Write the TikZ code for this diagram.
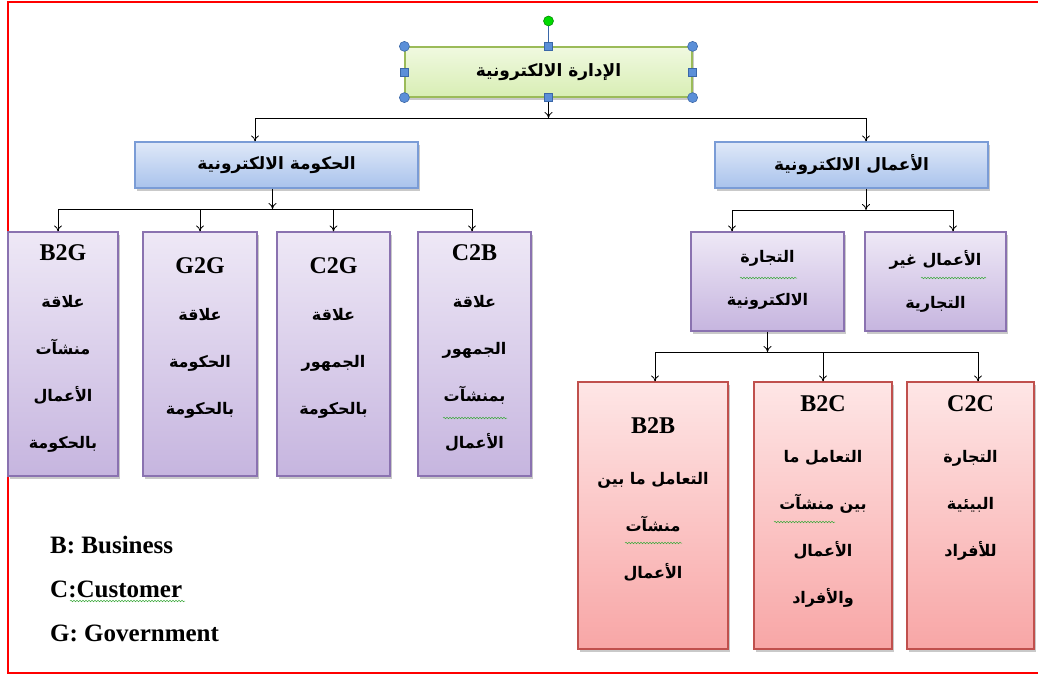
\documentclass[tikz,border=0pt]{standalone}
\usepackage{fontspec}
\setmainfont{Liberation Serif}
\newfontfamily\arabicfont[Script=Arabic]{DejaVu Sans}
\TeXXeTstate=1
\usetikzlibrary{arrows.meta,shadows,decorations.pathmorphing}

\definecolor{frame red}{HTML}{FF0000}
\definecolor{admin top}{HTML}{F0F9E0}
\definecolor{admin bot}{HTML}{D8EEB4}
\definecolor{admin edge}{HTML}{9BBB59}
\definecolor{blue top}{HTML}{DFE8F8}
\definecolor{blue bot}{HTML}{A9C3EC}
\definecolor{blue edge}{HTML}{7A9CD6}
\definecolor{violet top}{HTML}{EEE8F6}
\definecolor{violet bot}{HTML}{C6B5DF}
\definecolor{violet edge}{HTML}{8A72B0}
\definecolor{rose top}{HTML}{FEE6E6}
\definecolor{rose bot}{HTML}{F8A6A6}
\definecolor{rose edge}{HTML}{C0504D}
\definecolor{handle fill}{HTML}{5B8FD8}
\definecolor{handle edge}{HTML}{3A67A8}
\definecolor{spell green}{HTML}{3DAA3D}

\newcommand{\ar}[1]{\beginR #1\endR}
\newcommand{\code}[1]{{\rmfamily\bfseries\fontsize{24}{28}\selectfont #1}}

\begin{document}
\begin{tikzpicture}[x=1pt,y=-1pt]

\tikzset{
  base box/.style={
    draw, line width=1.2pt, inner sep=0pt,
    drop shadow={shadow xshift=2pt, shadow yshift=-3pt, opacity=0.3, fill=black!70},
  },
  admin box/.style={base box, draw=admin edge, top color=admin top, bottom color=admin bot},
  branch box/.style={base box, draw=blue edge, top color=blue top, bottom color=blue bot},
  kind box/.style={base box, draw=violet edge, top color=violet top, bottom color=violet bot},
  trade box/.style={base box, draw=rose edge, top color=rose top, bottom color=rose bot},
  head text/.style={font=\arabicfont\bfseries\fontsize{17}{20}\selectfont},
  box text/.style={inner sep=0pt, align=center, anchor=north,
    font=\arabicfont\bfseries\fontsize{16}{47}\selectfont},
  legend text/.style={inner sep=0pt, anchor=base west, font=\rmfamily\bfseries\fontsize{25}{28}\selectfont},
  link/.style={line width=0.8pt, -{To[length=6pt,width=8pt]}},
  bus/.style={line width=0.8pt},
  handle/.style={fill=handle fill, draw=handle edge, line width=0.6pt},
  spell/.style={draw=spell green, line width=0.5pt, decorate,
    decoration={snake, amplitude=0.8pt, segment length=3pt}},
}

% Frame
\useasboundingbox (0,0) rectangle (1038,677);
\clip (0,0) rectangle (1038,677);
\draw[frame red, line width=2pt] (7.5,2.5) rectangle (1060,673);

% Level 0
\node[admin box, minimum width=287pt, minimum height=50pt] (eadmin) at (548.5,72) {};
\node[head text] (eadmintext) at (eadmin) {\ar{الإدارة الالكترونية}};

% Level 1
\node[branch box, minimum width=283pt, minimum height=46pt] (egov) at (276.5,165) {};
\node[head text] (egovtext) at (egov) {\ar{الحكومة الالكترونية}};
\node[branch box, minimum width=273pt, minimum height=46pt] (ebiz) at (851.5,165) {};
\node[head text] (ebiztext) at (ebiz) {\ar{الأعمال الالكترونية}};

% Level 2 (government side)
\node[kind box, minimum width=110pt, minimum height=244pt] (b2g) at (63,354) {};
\node[kind box, minimum width=114pt, minimum height=244pt] (g2g) at (200,354) {};
\node[kind box, minimum width=113pt, minimum height=244pt] (c2g) at (333.5,354) {};
\node[kind box, minimum width=113pt, minimum height=244pt] (c2b) at (474.5,354) {};

\node[box text] (b2gtext) at ([yshift=-13pt]b2g.north)
  {\code{B2G}\\ \ar{علاقة}\\ \ar{منشآت}\\ \ar{الأعمال}\\ \ar{بالحكومة}};
\node[box text] (g2gtext) at ([yshift=-26pt]g2g.north)
  {\code{G2G}\\ \ar{علاقة}\\ \ar{الحكومة}\\ \ar{بالحكومة}};
\node[box text] (c2gtext) at ([yshift=-26pt]c2g.north)
  {\code{C2G}\\ \ar{علاقة}\\ \ar{الجمهور}\\ \ar{بالحكومة}};
\node[box text] (c2btext) at ([yshift=-13pt]c2b.north)
  {\code{C2B}\\ \ar{علاقة}\\ \ar{الجمهور}\\ \ar{بمنشآت}\\ \ar{الأعمال}};

% Level 2 (business side)
\node[kind box, minimum width=153pt, minimum height=99pt] (etrade) at (767.5,281.5) {};
\node[kind box, minimum width=141pt, minimum height=99pt] (nontrade) at (935.5,281.5) {};
\node[box text, font=\arabicfont\bfseries\fontsize{16}{43}\selectfont] (etradetext)
  at ([yshift=-19pt]etrade.north) {\ar{التجارة}\\ \ar{الالكترونية}};
\node[box text, font=\arabicfont\bfseries\fontsize{16}{43}\selectfont] (nontradetext)
  at ([yshift=-19pt]nontrade.north) {\ar{الأعمال غير}\\ \ar{التجارية}};

% Level 3
\node[trade box, minimum width=150pt, minimum height=267pt] (b2b) at (653,515.5) {};
\node[trade box, minimum width=138pt, minimum height=267pt] (b2c) at (823,515.5) {};
\node[trade box, minimum width=127pt, minimum height=267pt] (c2c) at (970.5,515.5) {};

\node[box text] (b2btext) at ([yshift=-36pt]b2b.north)
  {\code{B2B}\\[4pt] \ar{التعامل ما بين}\\ \ar{منشآت}\\ \ar{الأعمال}};
\node[box text] (b2ctext) at ([yshift=-14pt]b2c.north)
  {\code{B2C}\\[4pt] \ar{التعامل ما}\\ \ar{بين منشآت}\\ \ar{الأعمال}\\ \ar{والأفراد}};
\node[box text] (c2ctext) at ([yshift=-14pt]c2c.north)
  {\code{C2C}\\[4pt] \ar{التجارة}\\ \ar{البيئية}\\ \ar{للأفراد}};

% Legend
\node[legend text] (legb) at (50,553) {B: Business};
\node[legend text] (legc) at (50,597) {C:Customer};
\node[legend text] (legg) at (50,641) {G: Government};

% Edges
\coordinate (topbusL) at (255,118);
\coordinate (topbusR) at (866,118);
\draw[link] (eadmin.south) -- (eadmin.south |- topbusL);
\draw[bus] (topbusL) -- (topbusR);
\draw[link] (topbusL) -- (topbusL |- egov.north);
\draw[link] (topbusR) -- (topbusR |- ebiz.north);

\coordinate (govbusL) at (58,209);
\coordinate (govbusR) at (472,209);
\draw[link] ([xshift=-4pt]egov.south) -- ([xshift=-4pt]egov.south |- govbusL);
\draw[bus] (govbusL) -- (govbusR);
\draw[link] (govbusL) -- (govbusL |- b2g.north);
\draw[link] (g2g.north |- govbusL) -- (g2g.north);
\draw[link] (c2g.north |- govbusL) -- (c2g.north);
\draw[link] (govbusR) -- (govbusR |- c2b.north);

\coordinate (bizbusL) at (732,210);
\coordinate (bizbusR) at (953,210);
\draw[link] (topbusR |- ebiz.south) -- (topbusR |- bizbusL);
\draw[bus] (bizbusL) -- (bizbusR);
\draw[link] (bizbusL) -- (bizbusL |- etrade.north);
\draw[link] (bizbusR) -- (bizbusR |- nontrade.north);

\coordinate (tradebusL) at (655,352);
\coordinate (tradebusR) at (978,352);
\draw[link] (etrade.south) -- (etrade.south |- tradebusL);
\draw[bus] (tradebusL) -- (tradebusR);
\draw[link] (tradebusL) -- (tradebusL |- b2b.north);
\draw[link] (b2c.north |- tradebusL) -- (b2c.north);
\draw[link] (tradebusR) -- (tradebusR |- c2c.north);

% Selection handles
\coordinate (turn) at (548.5,21);
\draw[handle edge, line width=0.8pt] (eadmin.north) -- (turn);
\fill[green!85!black] (turn) circle (5pt);
\draw[green!50!black, line width=0.5pt] (turn) circle (5pt);
\foreach \a in {north west, north east, south west, south east}
  \draw[handle] (eadmin.\a) circle (5pt);
\foreach \a in {north, south, west, east}
  \draw[handle] ([xshift=-4pt,yshift=-4pt]eadmin.\a) rectangle ++(8,-8);

% Spelling marks
\draw[spell] (740,278) -- (797,278);
\draw[spell] (921,278) -- (986,278);
\draw[spell] (443,418) -- (507,418);
\draw[spell] (625,543) -- (682,543);
\draw[spell] (774,522) -- (835,522);
\draw[spell] (70,601) -- (185,601);

\end{tikzpicture}
\end{document}
